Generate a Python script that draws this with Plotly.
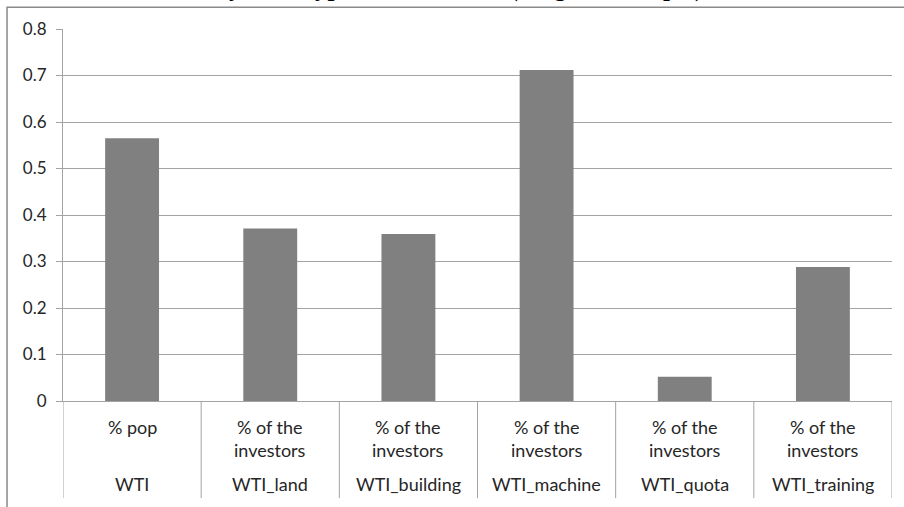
import plotly.graph_objects as go

# Investment categories and the shares plotted for each
groups = ["WTI", "WTI_land", "WTI_building", "WTI_machine", "WTI_quota", "WTI_training"]
measures = ["% pop", "% of the<br>investors", "% of the<br>investors",
            "% of the<br>investors", "% of the<br>investors", "% of the<br>investors"]
shares = [0.565, 0.371, 0.359, 0.712, 0.052, 0.288]
y_ticks = [0, 0.1, 0.2, 0.3, 0.4, 0.5, 0.6, 0.7, 0.8]
y_tick_text = ["0", "0.1", "0.2", "0.3", "0.4", "0.5", "0.6", "0.7", "0.8"]
title_text = "Figure 5: Share of investors by farm type and farm size (weighted sample)"

GRID = "#a3a3a3"
LABEL_FONT = dict(family="Lato", size=18, color="#262626")
TICK_FONT = dict(family="Lato", size=17, color="#262626")

fig = go.Figure(
    go.Bar(x=groups, y=shares, marker=dict(color="#808080", line=dict(width=0)),
           hoverinfo="x+y")
)

# Two-level category labels under each bar
annotations = []
for g, m in zip(groups, measures):
    annotations.append(dict(x=g, xref="x", y=-0.036, yref="paper", yanchor="top",
                            text=m, showarrow=False, font=LABEL_FONT, align="center"))
    annotations.append(dict(x=g, xref="x", y=-0.223, yref="paper", yanchor="middle",
                            text=g, showarrow=False, font=LABEL_FONT))

# Chart heading (sits above the chart frame)
annotations.append(dict(x=0.7744, xref="paper", xanchor="right", y=1.067, yref="paper",
                        yanchor="bottom", text="<b>" + title_text + "</b>",
                        showarrow=False,
                        font=dict(family="Liberation Serif", size=25, color="black")))

# Category dividers running down through the label rows
shapes = []
for i in range(len(groups) + 1):
    shapes.append(dict(type="line", xref="x", yref="paper", x0=i - 0.5, x1=i - 0.5,
                       y0=0, y1=-0.261, line=dict(color=GRID, width=1)))

# Outer chart frame
shapes.append(dict(type="rect", xref="paper", yref="paper", x0=-0.0675, x1=1.2,
                   y0=-0.5, y1=1.0585, line=dict(color="#8a8a8a", width=1.5),
                   fillcolor="rgba(0,0,0,0)", layer="below"))

fig.update_layout(
    width=904, height=507,
    margin=dict(l=63, r=12, t=29, b=106),
    paper_bgcolor="white", plot_bgcolor="white",
    bargap=0.61,
    showlegend=False,
    annotations=annotations,
    shapes=shapes,
    xaxis=dict(showticklabels=False, showline=True, linecolor=GRID, linewidth=1,
               ticks="", showgrid=False, zeroline=False,
               range=[-0.5, len(groups) - 0.5]),
    yaxis=dict(range=[0, 0.8], tickvals=y_ticks, ticktext=y_tick_text,
               showgrid=True, gridcolor=GRID, gridwidth=1,
               showline=True, linecolor=GRID, linewidth=1,
               ticks="outside", ticklen=6, tickcolor=GRID,
               ticklabelstandoff=6, zeroline=False,
               tickfont=TICK_FONT),
)

fig.write_html("out.html")
